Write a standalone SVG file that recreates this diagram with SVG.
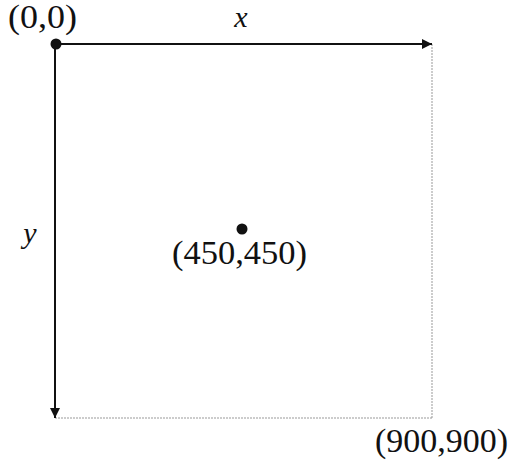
<svg xmlns="http://www.w3.org/2000/svg" width="510" height="463" viewBox="0 0 510 463">
<style>
.lbl{font-family:"Liberation Serif","DejaVu Serif",serif;font-size:33px;fill:#111}
.var{font-family:"Liberation Serif","DejaVu Serif",serif;font-style:italic;font-size:30px;fill:#111}
.axis{stroke:#111;stroke-width:2;fill:none}
.dot{stroke:#999;stroke-width:1;stroke-dasharray:2 1;fill:none}
</style>
<defs>
<marker id="ah" markerWidth="10" markerHeight="10" refX="10" refY="5" orient="auto" markerUnits="userSpaceOnUse">
<path d="M0,0 L10,5 L0,10 Z" fill="#111"/>
</marker>
</defs>
<g id="connectors">
<line class="dot" x1="432" y1="44" x2="432" y2="418"/>
<line class="dot" x1="55" y1="418" x2="432" y2="418"/>
<line class="axis" x1="55" y1="44" x2="432" y2="44" marker-end="url(#ah)"/>
<line class="axis" x1="55" y1="44" x2="55" y2="418" marker-end="url(#ah)"/>
</g>
<g id="origin">
<circle cx="56" cy="44" r="5.5" fill="#111"/>
<text class="lbl" x="8" y="28" textLength="69" lengthAdjust="spacingAndGlyphs">(0,0)</text>
</g>
<g id="center">
<circle cx="242" cy="229" r="5.5" fill="#111"/>
<text class="lbl" x="172" y="264" textLength="135" lengthAdjust="spacingAndGlyphs">(450,450)</text>
</g>
<g id="corner">
<text class="lbl" x="375" y="452" textLength="133" lengthAdjust="spacingAndGlyphs">(900,900)</text>
</g>
<g id="xlabel"><text class="var" x="241" y="27" text-anchor="middle">x</text></g>
<g id="ylabel"><text class="var" x="30" y="243" text-anchor="middle">y</text></g>
</svg>
